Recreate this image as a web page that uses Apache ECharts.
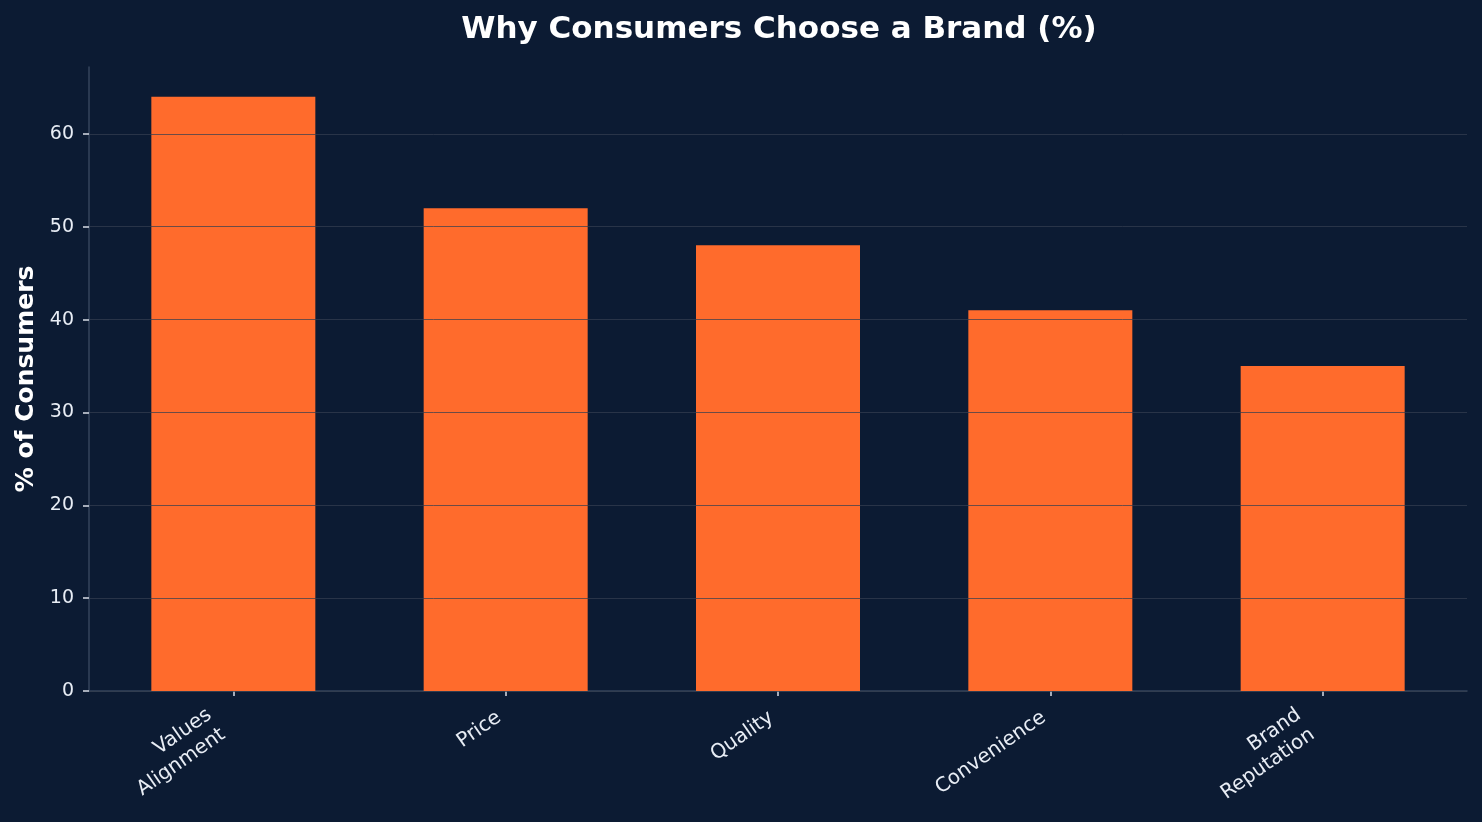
<!DOCTYPE html>
<html>
<head>
<meta charset="utf-8">
<script src="https://cdn.jsdelivr.net/npm/echarts@6/dist/echarts.min.js"></script>
<style>
  html, body { margin: 0; padding: 0; background: #0c1b33; }
  #chart-container { width: 1482px; height: 822px; }
</style>
</head>
<body>
<div id="chart-container"></div>
<script>
// data
var categories = ["Values\nAlignment", "Price", "Quality", "Convenience", "Brand\nReputation"];
var shares = [64, 52, 48, 41, 35];
var yTicks = [0, 10, 20, 30, 40, 50, 60];

var chartDom = document.getElementById("chart-container");
var myChart = echarts.init(chartDom);

var positions = categories.map(function (c, i) { return i; });
var barData = shares.map(function (v, i) { return [i, v]; });

// two-line labels sit a bit further down-left in the original, nudge them with trailing spaces
function tickLabel(v) {
  var s = categories[Math.round(v)];
  if (s.indexOf("\n") < 0) return s;
  return s.split("\n").map(function (l) { return l + "  "; }).join("\n");
}

var option = {
  backgroundColor: "#0c1b33",
  textStyle: { fontFamily: "DejaVu Sans" },
  title: {
    text: "Why Consumers Choose a Brand (%)",
    left: 774,
    textAlign: "center",
    top: 9,
    textStyle: { color: "#ffffff", fontSize: 31, fontWeight: "bold", fontFamily: "DejaVu Sans" }
  },
  grid: { left: 89, right: 15, top: 67, bottom: 131 },
  xAxis: {
    type: "value",
    min: -0.53,
    max: 4.53,
    splitLine: { show: false },
    axisLine: { show: true, onZero: false, lineStyle: { color: "#34445c", width: 1.5 } },
    axisTick: {
      show: true,
      customValues: positions,
      length: 5,
      lineStyle: { color: "#d8dde6", width: 1.5 }
    },
    axisLabel: {
      customValues: positions,
      rotate: 35,
      margin: 20,
      padding: [0, 8, 0, 0],
      color: "#e8edf5",
      fontSize: 20,
      align: "right",
      lineHeight: 24,
      formatter: tickLabel
    }
  },
  yAxis: {
    type: "value",
    min: 0,
    max: 67.2,
    z: 5,
    name: "% of Consumers",
    nameLocation: "middle",
    nameRotate: 90,
    nameGap: 50,
    nameTextStyle: { color: "#ffffff", fontSize: 25, fontWeight: "bold" },
    axisLine: { show: true, onZero: false, lineStyle: { color: "#34445c", width: 1.5 } },
    axisTick: { show: true, customValues: yTicks, length: 6, lineStyle: { color: "#d8dde6", width: 1.5 } },
    axisLabel: {
      customValues: yTicks,
      margin: 15,
      color: "#e8edf5",
      fontSize: 19
    },
    splitLine: {
      show: true,
      lineStyle: { color: "rgba(52,63,81,0.72)", width: 1 }
    }
  },
  series: [
    {
      type: "bar",
      data: barData,
      barWidth: 164,
      z: 1,
      itemStyle: { color: "#ff6b2c" }
    }
  ]
};

myChart.setOption(option);
</script>
</body>
</html>
